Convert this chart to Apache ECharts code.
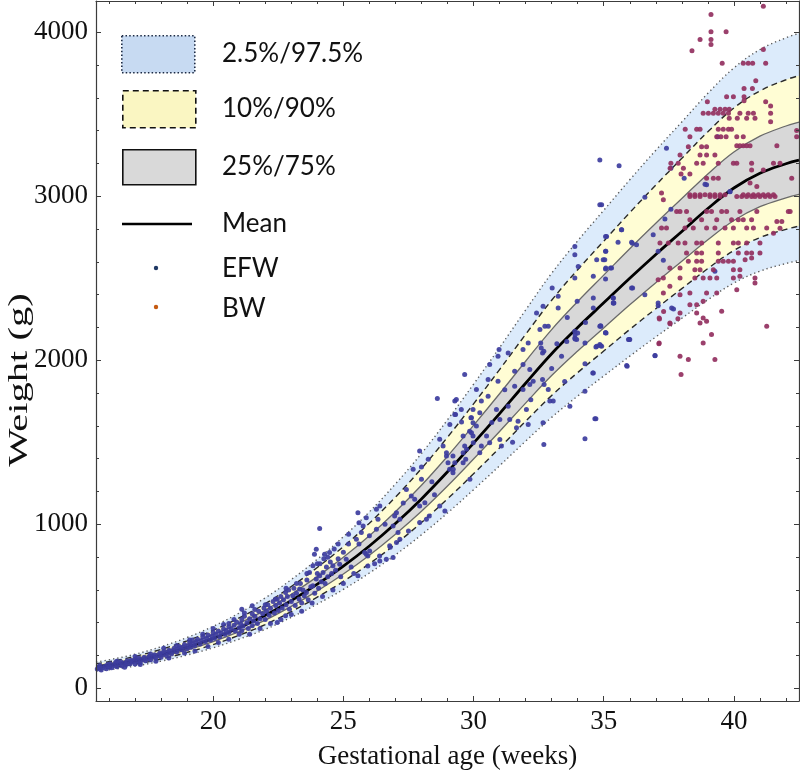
<!DOCTYPE html>
<html><head><meta charset="utf-8">
<script src="https://cdn.jsdelivr.net/npm/echarts@6/dist/echarts.min.js"></script>
<style>html,body{margin:0;padding:0;background:#fff}#c{width:800px;height:775px}</style>
</head><body><div id="c"></div>
<script>
// ---- data ----
const weeks = [15.5,16,17,18,19,20,21,22,23,24,25,26,27,28,29,30,31,32,33,34,35,36,37,38,39,40,41,42,42.5];
const mean  = [130,140,168,205,250,305,370,445,535,635,745,868,1005,1155,1320,1495,1675,1860,2040,2200,2350,2500,2645,2785,2925,3050,3140,3198,3220];
const p975  = [161,174,208,254,310,378,459,552,663,787,924,1076,1246,1432,1637,1854,2077,2306,2530,2728,2914,3100,3280,3453,3627,3782,3894,3966,3993];
const p90   = [151,162,195,238,290,354,429,516,621,737,864,1007,1166,1340,1531,1734,1943,2158,2366,2552,2726,2900,3068,3231,3393,3538,3642,3710,3735];
const p75   = [139,150,180,220,268,327,397,477,574,681,799,930,1077,1238,1415,1603,1796,1994,2187,2358,2519,2680,2835,2986,3136,3270,3366,3428,3452];
const p25   = [122,131,157,192,234,285,346,416,500,594,697,812,940,1080,1234,1398,1566,1739,1907,2057,2197,2338,2473,2604,2735,2852,2936,2990,3011];
const p10   = [114,123,147,179,219,267,324,389,468,556,652,760,879,1011,1155,1308,1466,1628,1785,1925,2056,2188,2314,2437,2559,2669,2748,2798,2818];
const p025  = [105,113,136,166,203,247,300,360,433,514,603,703,814,936,1069,1211,1357,1507,1652,1782,1904,2025,2142,2256,2369,2471,2543,2590,2608];

const efw = [
[15.55,118],[15.6,130],[15.65,140],[15.7,112],[15.75,125],[15.85,135],[15.9,120],[15.95,145],[16.0,130],[16.05,150],[16.1,126],[16.2,140],[16.25,158],[16.3,132],[16.4,148],[16.45,162],[16.5,138],[16.6,155],[16.65,145],[16.7,168],[16.8,150],[16.85,172],[16.9,160],[17.0,148],[17.0,178],[17.1,165],[17.15,185],[17.2,158],[17.3,175],[17.35,190],[17.4,168],[17.5,182],[17.55,198],[17.6,175],[17.7,192],[17.75,205],[17.8,185],[17.9,200],[17.95,215],[18.0,190],[18.05,208],[18.1,225],[18.2,200],[18.25,218],[18.3,232],[18.4,210],[18.45,228],[18.5,245],[18.6,222],[18.65,240],[18.7,255],[18.8,235],[18.85,252],[18.9,268],[19.0,242],[19.05,260],[19.1,280],[19.15,250],[19.2,272],[19.2,295],[19.3,262],[19.35,285],[19.4,300],[19.5,270],[19.55,292],[19.6,315],[19.7,285],[19.75,305],[19.8,325],[19.9,295],[19.95,318],[20.0,340],[20.05,305],[20.1,330],[20.2,350],[20.25,315],[20.3,338],[20.4,362],[20.45,330],[20.5,352],[20.6,375],[20.6,340],[20.6,395],[20.7,360],[20.8,385],[20.85,350],[20.9,405],[21.0,370],[21.05,395],[21.1,351],[21.1,420],[21.1,483],[21.15,380],[21.2,440],[21.3,400],[21.35,365],[21.4,425],[21.5,381],[21.5,455],[21.5,503],[21.55,410],[21.6,440],[21.7,395],[21.75,470],[21.8,425],[21.9,455],[21.95,490],[22.0,420],[22.05,470],[22.1,510],[22.15,445],[22.2,488],[22.3,530],[22.35,460],[22.4,505],[22.46,401],[22.46,544],[22.5,475],[22.55,520],[22.6,560],[22.65,490],[22.7,540],[22.78,442],[22.78,584],[22.8,510],[22.85,560],[22.9,600],[22.93,483],[23.0,530],[23.06,564],[23.1,610],[23.15,505],[23.2,580],[23.3,545],[23.32,605],[23.35,640],[23.4,520],[23.45,600],[23.5,565],[23.58,585],[23.6,660],[23.65,540],[23.7,706],[23.75,620],[23.83,625],[23.83,747],[23.89,817],[23.9,580],[23.96,666],[23.96,848],[24.0,700],[24.05,610],[24.09,686],[24.09,974],[24.1,760],[24.15,650],[24.22,706],[24.25,790],[24.28,818],[24.3,640],[24.35,740],[24.4,680],[24.47,828],[24.5,770],[24.55,700],[24.6,747],[24.65,850],[24.7,720],[24.8,790],[24.86,757],[24.9,680],[25.0,830],[25.11,787],[25.2,880],[25.3,740],
[16.3,165],[16.6,128],[17.0,195],[17.2,145],[17.6,210],[17.8,165],[18.1,245],[18.3,185],[18.6,262],[18.9,215],[19.1,295],[19.3,228],[19.6,330],[19.8,255],[20.0,365],[20.2,280],[20.4,390],[20.6,300],[20.8,420],[21.0,330],[21.2,460],[21.4,330],[21.6,480],[21.8,365],[22.0,510],[22.2,395],[22.4,545],[22.6,420],[22.8,610],[23.0,450],[23.2,640],[23.4,470],[23.6,700],[23.8,520],[24.0,760],[24.2,560],[24.4,800],[24.6,600],[24.8,880],[25.0,640],[25.2,940],[25.4,700],[25.6,880],[26.0,930],[26.2,760],[26.6,1000],[26.8,860],[27.3,1130],[27.5,960],[28.4,1260],[28.5,1180],[28.3,1050],[28.0,1350],[30.7,1620],[31.2,1820],[31.5,1500],[32.2,1760],[33.2,2100],[33.5,1870],[33.0,1950],[33.6,2260],[34.3,2230],
[25.56,1071],[25.6,1010],[25.88,1040],[26.27,970],[25.94,807],[26.39,807],[25.56,686],[25.94,746],
[28.61,1767],[29.28,1751],[29.31,1670],[29.54,1623],[29.9,1650],[30.11,1599],[29.09,1609],[28.7,1518],[28.83,1477],[28.96,1416],[29.02,1376],[27.93,1447],[28.26,1396],[27.68,1335],[28.0,1274],[27.42,1213],[27.61,1173],[27.74,1153],[27.93,1112],[28.13,1132],[27.04,1071],[26.97,1051],[27.17,1031],[26.91,990],[27.1,950],[26.4,1112],[26.27,1092],[26.33,1031],[25.76,990],[25.69,950],[25.5,909],[25.82,828],[26.78,869],[27.04,889],[27.17,909],[26.01,838],[25.88,818],[26.91,797],[26.65,787],[26.4,777],[28.7,1112],[28.9,1081],[29.22,1335],[29.73,1457],[29.99,1497],[29.6,1376],[29.86,1274],[28.19,1031],[27.93,1011],
[34.92,2948],[33.89,2694],[33.89,2643],[35.11,2755],[35.08,2664],[35.69,2796],[34.73,2613],[34.98,2613],[34.02,2572],[33.89,2501],[34.6,2512],[35.07,2556],[35.26,2562],[36.1,2714],[33.02,2441],[33.25,2390],[33.98,2359],[34.6,2380],[35.37,2380],[35.37,2349],[36.11,2441],[32.67,2329],[32.42,2288],[33.25,2319],[32.74,2207],[32.55,2187],[32.87,2207],[33.89,2177],[33.89,2136],[33.96,2126],[34.28,2106],[34.89,2207],[35.07,2167],[34.73,2086],[34.92,2086],[36.0,2126],[35.9,1964],[34.6,1923],[34.66,1643],[34.28,1521],[32.58,2106],[32.6,2075],[32.7,2055],[32.65,2045],[32.1,2106],[31.9,2065],[31.33,2045],[31.9,1974],[30.98,2065],[30.94,2025],[30.62,1974],[31.58,1933],[32.16,1943],[32.29,1872],[32.65,1883],[32.71,1852],[32.87,1822],[32.93,1751],[33.06,1751],[32.67,1619],[32.7,1487],[31.58,1842],[31.9,1822],[32.16,1852],[30.56,1883],[30.94,1872],[30.11,1822],[30.3,1751],[30.56,1781],[29.34,1761],[29.66,1913],[29.28,1670],[29.53,1700],[29.98,1700],[30.24,1680],[30.88,1700],[31.01,1639],[31.33,1720],[31.39,1639],[31.71,1629],[31.65,1588],[32.03,1700],[32.1,1609],[29.92,1649],[29.98,1619],[29.85,1568],[29.92,1558],[29.98,1538],[29.6,1538],[29.66,1477],[29.6,1436],[29.7,1396],[30.5,1538],[30.62,1497],[30.3,1477],[30.24,1436],[31.01,1517],[31.07,1477],[28.96,1436],[29.21,1416],[29.28,1375],[29.08,1335],[29.21,1315],
[34.85,2948],[35.07,2755],[35.07,2664],[35.04,2613],[35.08,2562],[35.3,2562],[35.07,2495],[35.68,2796],[35.55,2719],[36.07,2719],[36.26,2704],[36.9,2765],[37.09,2664],[37.29,2609],[37.35,2861],[37.58,2921],[38.95,3070],[39.85,3029],[36.07,2441],[35.36,2380],[35.39,2349],[36.58,2400],[34.85,2207],[35.07,2167],[35.98,2126],[37.09,2349],[37.09,2333],[37.61,2319],[39.27,2542],[34.85,2096],[36.97,2029],[35.88,1968],
[34.7,1643],[33.7,1720],[34.28,1811],[34.58,1923],[35.95,2126],[36.97,2028],[34.28,1979],[34.7,2081],[34.88,2089],[35.09,2166],[34.88,2211],[33.9,2156],[34.0,2166],[33.9,2130],[33.58,2115],[33.38,2024],[35.37,2349],[34.6,2318],[37.68,2312],
[34.85,3221],[35.59,3185],[37.41,3292],[37.58,3170],[38.09,3110],[38.89,3073],[36.58,2994],[39.38,3363],[39.85,3028]
];

const bw = [
[41.13,4158],[39.12,4108],[39.12,4002],[39.7,4002],[38.7,3956],[39.12,3956],[39.12,3925],[38.39,3887],[41.13,3895],[39.55,3810],[40.36,3810],[40.55,3810],[40.72,3810],[41.22,3810],[40.84,3704],[40.39,3657],[40.71,3657],[38.98,3576],[39.72,3607],[39.98,3607],[40.39,3607],[40.39,3582],[41.22,3576],[41.41,3550],[39.27,3530],[39.47,3530],[39.66,3530],[39.82,3530],[38.82,3505],[39.02,3505],[39.21,3505],[39.4,3505],[39.59,3505],[39.79,3505],[40.23,3505],[40.55,3505],[40.75,3505],[41.41,3505],[39.82,3475],[40.13,3475],[40.49,3475],[40.81,3475],[41.41,3454],[38.13,3408],[38.57,3408],[38.7,3408],[39.4,3408],[39.59,3408],[39.79,3408],[39.91,3408],[42.41,3400],[38.31,3363],[39.34,3363],[39.5,3363],[39.7,3363],[40.11,3363],[40.36,3363],[42.41,3363],[38.25,3302],[38.76,3302],[38.95,3302],[40.11,3308],[40.23,3308],[40.36,3308],[40.49,3308],[40.62,3308],[41.65,3308],[37.93,3252],[38.7,3252],[38.95,3252],[39.27,3252],[37.58,3201],[37.86,3201],[38.57,3201],[38.82,3201],[39.4,3201],[39.98,3201],[40.11,3201],[40.68,3201],[41.52,3201],[41.77,3201],[37.55,3170],[38.06,3170],[37.97,3136],[38.31,3136],[38.95,3110],[39.21,3110],[39.4,3110],[42.22,3110],[40.68,3160],[41.13,3160],[38.31,2998],[38.5,2998],[38.7,2998],[39.08,2998],[39.27,2998],[39.47,2998],[40.11,2998],[40.3,2998],[40.49,2998],[40.68,2998],[40.81,2998],[41.0,2998],[41.2,2998],[41.39,2998],[41.58,2998],
[37.22,3019],[37.29,2978],[38.31,3009],[38.5,3009],[38.7,3009],[38.89,3009],[39.08,3009],[39.27,3009],[39.47,3009],[39.66,3009],[40.36,3009],[40.55,3009],[40.75,3009],[40.94,3009],[41.13,3009],[41.32,3009],[41.52,3009],[40.62,3080],[40.88,3060],
[37.8,2907],[37.93,2907],[38.18,2907],[38.95,2907],[39.14,2907],[39.53,2907],[39.72,2907],[40.23,2907],[40.88,2907],[42.09,2907],
[38.31,2856],[38.76,2856],[39.34,2856],[39.91,2856],[40.17,2856],[40.36,2856],[40.68,2856],[41.65,2846],[41.84,2846],
[37.22,2806],[37.41,2806],[38.12,2806],[38.44,2806],[38.95,2806],[39.27,2806],[39.66,2806],[39.98,2806],[40.49,2806],[40.75,2806],[41.26,2806],[41.77,2805],[41.52,2775],[42.16,2907],
[37.16,2715],[37.48,2715],[37.86,2715],[38.12,2715],[38.57,2715],[38.76,2715],[39.4,2715],[39.98,2715],[40.17,2715],[40.49,2715],[41.0,2715],
[38.18,2654],[38.57,2654],[38.76,2654],[39.4,2654],[40.17,2654],[40.49,2654],[40.68,2654],[41.0,2654],
[38.25,2603],[38.57,2603],[38.76,2603],[39.4,2603],[39.59,2603],[39.79,2603],[39.98,2603],[40.43,2613],[40.68,2623],
[37.54,2562],[37.93,2562],[38.5,2552],[38.7,2552],[39.21,2552],[39.98,2552],[40.23,2552],
[37.29,2501],[37.93,2501],[38.5,2501],[38.82,2501],[39.08,2501],[39.34,2501],[39.98,2501],[40.81,2501],[40.81,2471],[40.23,2512],
[37.09,2491],[37.54,2451],[38.31,2410],[38.95,2410],[39.34,2410],[40.11,2430],[37.29,2410],[37.93,2400],
[38.31,2339],[38.57,2339],[38.82,2359],[37.13,2258],[37.54,2227],[37.93,2288],[39.53,2299],[38.57,2288],[38.82,2258],[38.7,2227],[38.95,2238],[41.26,2207],[39.14,2157],[37.13,2106],[38.82,2106],[37.93,2025],[38.25,2004],[39.27,2004],[37.97,1913],
[37.14,2251],[37.3,2298],[37.55,2223],[37.12,2101],[37.85,2253]
];

const xTickLabels = [20,25,30,35,40];
const yTickLabels = [0,1000,2000,3000,4000];
const xMinorTicks = [16,17,18,19,20,21,22,23,24,25,26,27,28,29,30,31,32,33,34,35,36,37,38,39,40,41,42];
const yMinorTicks = [0,200,400,600,800,1000,1200,1400,1600,1800,2000,2200,2400,2600,2800,3000,3200,3400,3600,3800,4000];

// ---- chart ----
const SERIF = '"Liberation Serif","Times New Roman",serif';
const SANS = 'Lato,"Open Sans",sans-serif';
const AX = '#3c3c3c';
const pair = arr => weeks.map((w, i) => [w, arr[i]]);

function xAx(pos, major, labels) {
  return {
    type: 'value', position: pos, min: 15.5, max: 42.5, z: 10,
    axisLine: { show: major, onZero: false, lineStyle: { color: AX, width: 1.2 } },
    splitLine: { show: false },
    axisTick: { show: true, inside: true, length: major ? 5 : 3, customValues: major ? xTickLabels : xMinorTicks, lineStyle: { color: AX, width: 1 } },
    axisLabel: { show: labels, customValues: xTickLabels, margin: 7, fontFamily: SERIF, fontSize: 27, color: '#111',
      formatter: v => String(v) },
    name: labels ? 'Gestational age (weeks)' : '', nameLocation: 'middle', nameGap: 42,
    nameTextStyle: { fontFamily: SERIF, fontSize: 27, color: '#111' }
  };
}
function yAx(pos, major, labels) {
  return {
    type: 'value', position: pos, min: -77, max: 4190, z: 10,
    axisLine: { show: major, onZero: false, lineStyle: { color: AX, width: 1.2 } },
    splitLine: { show: false },
    axisTick: { show: true, inside: true, length: major ? 5 : 3, customValues: major ? yTickLabels : yMinorTicks, lineStyle: { color: AX, width: 1 } },
    axisLabel: { show: labels, customValues: yTickLabels, margin: 8, fontFamily: SERIF, fontSize: 27, color: '#111',
      formatter: v => String(v) }
  };
}

function band(name, arr, fill, lineColor, dash, width) {
  return {
    name, type: 'line', data: pair(arr), smooth: 0.4, showSymbol: false, symbol: 'none', z: 2,
    xAxisIndex: 0, yAxisIndex: 0, silent: true,
    lineStyle: { color: lineColor, width: width, type: dash },
    areaStyle: { color: fill, opacity: 1, origin: 'start' }
  };
}

const BLUE = '#dcebfb', YELLOW = '#fffdd4', GRAY = '#d8d8d8';

const series = [
  band('p975', p975, BLUE, '#5a5a5a', [1.3, 3], 1.4),
  band('p90', p90, YELLOW, '#2a2a2a', [6, 4], 1.4),
  band('p75', p75, GRAY, '#6a6a6a', 'solid', 1.3),
  band('p25', p25, YELLOW, '#6a6a6a', 'solid', 1.3),
  band('p10', p10, BLUE, '#2a2a2a', [6, 4], 1.4),
  band('p025', p025, '#ffffff', '#5a5a5a', [1.3, 3], 1.4),
  { name: 'Mean', type: 'line', data: pair(mean), smooth: 0.4, showSymbol: false, symbol: 'none', z: 3,
    lineStyle: { color: '#000', width: 2.8 } },
  { name: 'EFW', type: 'scatter', data: efw, symbolSize: 5, z: 4,
    itemStyle: { color: '#3d3d9e', opacity: 0.92 } },
  { name: 'BW', type: 'scatter', data: bw, symbolSize: 5, z: 4,
    itemStyle: { color: '#93305f', opacity: 0.92 } }
];

const legendRows = [
  { label: '2.5%/97.5%', y: 54 },
  { label: '10%/90%', y: 109 },
  { label: '25%/75%', y: 167 },
  { label: 'Mean', y: 224 },
  { label: 'EFW', y: 269 },
  { label: 'BW', y: 309 }
];
const graphic = [
  { type: 'rect', left: 121, top: 35, shape: { width: 73, height: 37 }, z: 20,
    style: { fill: '#c7daf2', stroke: '#1c2a44', lineWidth: 1.6, lineDash: [1.5, 2.2] } },
  { type: 'rect', left: 122, top: 90, shape: { width: 73, height: 37 }, z: 20,
    style: { fill: '#faf6c2', stroke: '#111', lineWidth: 1.6, lineDash: [6, 4] } },
  { type: 'rect', left: 122, top: 149, shape: { width: 73, height: 35 }, z: 20,
    style: { fill: '#d9d9d9', stroke: '#111', lineWidth: 1.6 } },
  { type: 'line', shape: { x1: 122, y1: 224, x2: 192, y2: 224 }, z: 20,
    style: { stroke: '#000', lineWidth: 2.6 } },
  { type: 'circle', shape: { cx: 156, cy: 268, r: 2.2 }, z: 20, style: { fill: '#1f3864' } },
  { type: 'circle', shape: { cx: 156, cy: 307, r: 2.2 }, z: 20, style: { fill: '#c55a11' } },
  { type: 'text', x: 20, y: 380, rotation: Math.PI / 2, scaleX: 1.5, z: 20,
    style: { text: 'Weight (g)', font: '27px ' + SERIF, fill: '#111', align: 'center', verticalAlign: 'middle' } }
].concat(legendRows.map(r => ({
  type: 'text', x: 222, y: r.y, z: 20,
  style: { text: r.label, font: '26px ' + SANS, fill: '#111', verticalAlign: 'middle', align: 'left' }
})));

const chart = echarts.init(document.getElementById('c'), null, { renderer: 'canvas' });
chart.setOption({
  animation: false,
  backgroundColor: '#fff',
  grid: { left: 96, right: 1, top: 1, bottom: 73, containLabel: false },
  xAxis: [xAx('bottom', true, true), xAx('bottom', false, false), xAx('top', true, false), xAx('top', false, false)],
  yAxis: [yAx('left', true, true), yAx('left', false, false), yAx('right', true, false), yAx('right', false, false)],
  series,
  graphic
});
</script></body></html>
